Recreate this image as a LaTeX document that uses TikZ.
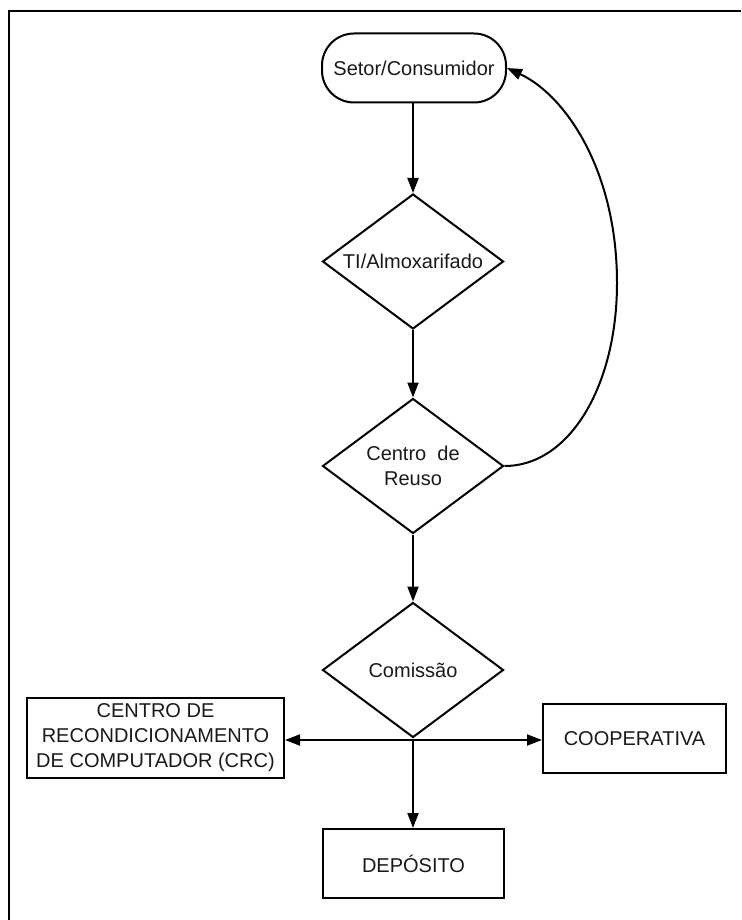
\documentclass[tikz,border=0pt]{standalone}
\usepackage{fontspec}
\setmainfont{Liberation Sans}
\usetikzlibrary{shapes.geometric,arrows.meta}
\begin{document}
\begin{tikzpicture}[x=1pt,y=-1pt,
  every node/.style={font=\fontsize{20}{25}\selectfont, text=black!90, align=center, line width=2pt},
  terminal/.style={draw, rounded corners=32pt, minimum width=184pt, minimum height=69pt, inner sep=0pt},
  decision/.style={draw, diamond, aspect=1.34, minimum width=181pt, minimum height=135pt, inner sep=0pt},
  box/.style={draw, rectangle, inner sep=0pt},
  arr/.style={line width=2pt, -{Triangle[length=15pt,width=11pt]}},
  line/.style={line width=2pt}
]
\useasboundingbox (0,0) rectangle (741,920);
\draw[line width=2.6pt] (9,920) -- (9,11) -- (741,11);

\node[terminal] (setor) at (414,68) {Setor/Consumidor};
\node[decision] (ti) at (413,261.5) {TI/Almoxarifado};
\node[decision] (reuso) at (413,466) {Centro\ \ de\\Reuso};
\node[decision] (comissao) at (413,670) {Comiss\~ao};
\node[box, minimum width=257pt, minimum height=80pt] (crc) at (155.5,738) {CENTRO DE\\RECONDICIONAMENTO\\DE COMPUTADOR (CRC)};
\node[box, minimum width=183pt, minimum height=69pt] (coop) at (634.5,738.5) {COOPERATIVA};
\node[box, minimum width=181pt, minimum height=69pt] (dep) at (413.5,863.5) {DEP\'OSITO};

\coordinate (br) at (413,740);
\coordinate (far) at (617,283);

\draw[arr] (setor.south -| ti.north) -- (ti.north);
\draw[arr] (ti.south) -- (reuso.north);
\draw[arr] (reuso.south) -- (comissao.north);
\draw[line] (comissao.south) -- (br);
\draw[arr] (br) -- (br -| crc.east);
\draw[arr] (br) -- (br -| coop.west);
\draw[arr] (br) -- (br |- dep.north);
\draw[arr] (reuso.east) .. controls (570,466) and (617,385) .. (far)
  .. controls (617,170) and (565,95) .. (setor.east);
\end{tikzpicture}
\end{document}
